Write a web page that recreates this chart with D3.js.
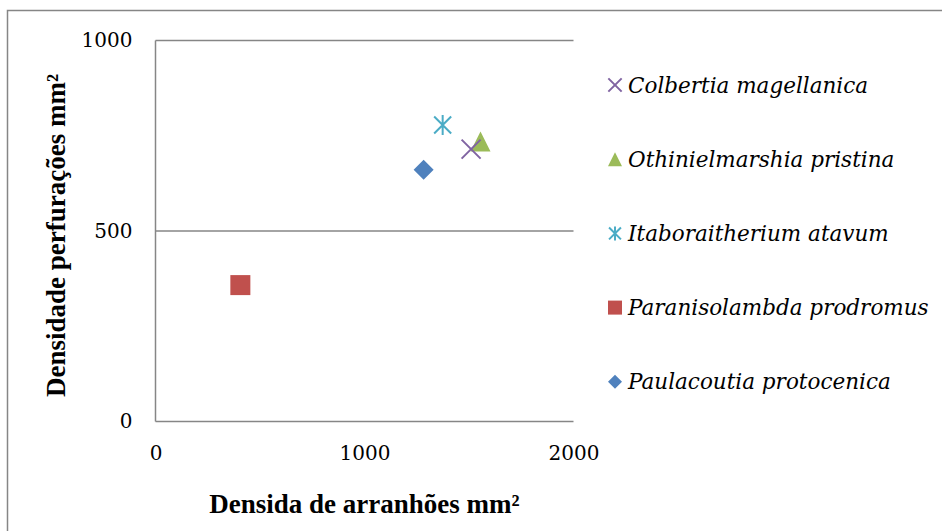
<!DOCTYPE html>
<html>
<head>
<meta charset="utf-8">
<script src="https://cdn.jsdelivr.net/npm/d3@7"></script>
<style>
  html, body { margin: 0; padding: 0; background: #fff; }
  svg { display: block; }
  .serif { font-family: "DejaVu Serif"; }
  .title { font-family: "Liberation Serif", "Times New Roman", serif; font-weight: bold; }
</style>
</head>
<body>
<svg id="chart" width="942" height="531"></svg>
<script>
// Species and their measured densities (mm²)
const species = [
  "Colbertia magellanica",
  "Othinielmarshia pristina",
  "Itaboraitherium atavum",
  "Paranisolambda prodromus",
  "Paulacoutia protocenica"
];
const scratchDensity = [1510, 1555, 1374, 406, 1283];   // arranhões
const pitDensity     = [715, 735, 778, 358, 661];        // perfurações
const markerShapes   = ["x", "triangle", "star", "square", "diamond"];
const markerColors   = ["#8064A2", "#9BBB59", "#4BACC6", "#C0504D", "#4F81BD"];

const xTicks = [0, 1000, 2000];
const yTicks = [0, 500, 1000];
const xTitle = "Densida de arranhões mm²";
const yTitle = "Densidade perfurações mm²";

const svg = d3.select("#chart");
const W = 942, H = 531;
const plot = { left: 155.5, right: 573.5, top: 40.5, bottom: 421.5 };

// outer chart frame
svg.append("rect")
  .attr("x", 7.5).attr("y", 10.5)
  .attr("width", W + 20).attr("height", H + 20)
  .attr("fill", "#fff").attr("stroke", "#868686").attr("stroke-width", 1.5);

const x = d3.scaleLinear().domain([0, 2000]).range([plot.left, plot.right]);
const y = d3.scaleLinear().domain([0, 1000]).range([plot.bottom, plot.top]);

// horizontal gridlines
svg.append("g").selectAll("line")
  .data(yTicks.filter(d => d > 0))
  .join("line")
  .attr("x1", plot.left).attr("x2", plot.right)
  .attr("y1", d => y(d)).attr("y2", d => y(d))
  .attr("stroke", "#868686").attr("stroke-width", 1.5);

// axes
const xAxis = svg.append("g")
  .attr("transform", `translate(0,${plot.bottom})`)
  .call(d3.axisBottom(x).tickValues(xTicks).tickSize(0).tickPadding(24).tickFormat(d3.format("d")));
const yAxis = svg.append("g")
  .attr("transform", `translate(${plot.left},0)`)
  .call(d3.axisLeft(y).tickValues(yTicks).tickSize(0).tickPadding(23).tickFormat(d3.format("d")));
[xAxis, yAxis].forEach(g => {
  g.attr("font-family", null).attr("font-size", null);
  g.select(".domain").attr("stroke", "#868686").attr("stroke-width", 1.5);
  g.selectAll("text").attr("class", "serif").style("font-size", "20px").attr("fill", "#000");
});
yAxis.select(".domain").attr("d", `M0,${plot.top}V${plot.bottom}`);
xAxis.select(".domain").attr("d", `M${plot.left},0H${plot.right}`);

// axis titles
svg.append("text")
  .attr("class", "title")
  .attr("x", (plot.left + plot.right) / 2).attr("y", 513)
  .attr("text-anchor", "middle")
  .style("font-size", "27px")
  .text(xTitle);
svg.append("text")
  .attr("class", "title")
  .attr("transform", `translate(65,235.5) rotate(-90)`)
  .attr("text-anchor", "middle")
  .style("font-size", "27px")
  .text(yTitle);

// marker drawing
function drawMarker(g, shape, color, s) {
  const h = s / 2;
  if (shape === "diamond") {
    g.append("path").attr("d", `M0,${-h}L${h},0L0,${h}L${-h},0Z`).attr("fill", color);
  } else if (shape === "square") {
    g.append("rect").attr("x", -h).attr("y", -h).attr("width", s).attr("height", s).attr("fill", color);
  } else if (shape === "triangle") {
    g.append("path").attr("d", `M0,${-h}L${h},${h}L${-h},${h}Z`).attr("fill", color);
  } else if (shape === "x") {
    const k = h * 0.95;
    g.append("path").attr("d", `M${-k},${-k}L${k},${k}M${-k},${k}L${k},${-k}`)
      .attr("stroke", color).attr("stroke-width", 2).attr("fill", "none");
  } else if (shape === "star") {
    const k = h * 0.85;
    g.append("path").attr("d", `M${-k},${-k}L${k},${k}M${-k},${k}L${k},${-k}M0,${-h}V${h}`)
      .attr("stroke", color).attr("stroke-width", 2).attr("fill", "none");
  }
}

// data points (drawn in reverse so the first series sits on top)
const idx = d3.range(species.length).reverse();
const points = svg.append("g");
idx.forEach(i => {
  const g = points.append("g")
    .attr("transform", `translate(${x(scratchDensity[i])},${y(pitDensity[i])})`);
  drawMarker(g, markerShapes[i], markerColors[i], 20);
});

// legend
const legend = svg.append("g");
species.forEach((name, i) => {
  const cy = 85 + i * 74.2;
  const g = legend.append("g").attr("transform", `translate(615,${cy})`);
  drawMarker(g, markerShapes[i], markerColors[i], 14);
  legend.append("text")
    .attr("class", "serif")
    .attr("x", 628).attr("y", cy).attr("dy", "0.35em")
    .style("font-size", "21.5px").style("font-style", "italic")
    .text(name);
});
</script>
</body>
</html>
